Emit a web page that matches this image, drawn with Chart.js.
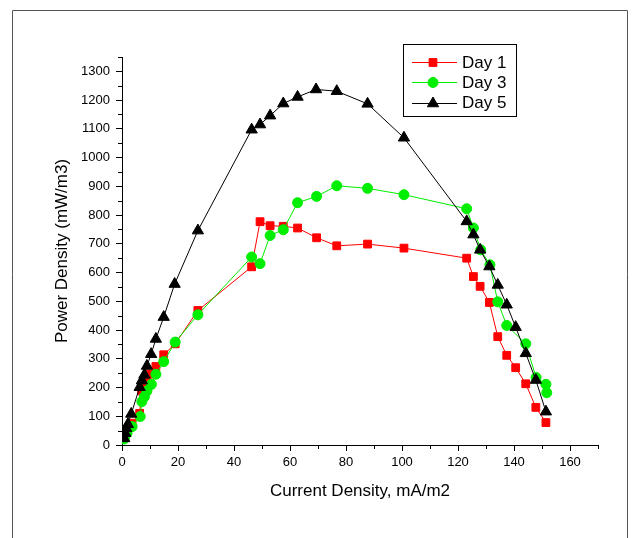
<!DOCTYPE html>
<html>
<head>
<meta charset="utf-8">
<script src="https://cdn.jsdelivr.net/npm/chart.js@4.4.0/dist/chart.umd.min.js"></script>
<style>
    html, body { margin: 0; padding: 0; background: #fff; }
    #wrap { position: relative; width: 635px; height: 538px; }
</style>
</head>
<body>
<div id="wrap"><canvas id="pdChart" width="635" height="538"></canvas></div>
<script>
// values
const day1X = [0.6, 1.8, 3.6, 6.3, 7.0, 8.0, 8.9, 10.2, 12.1, 14.9, 19.0, 27.1, 46.3, 49.3, 52.9, 57.6, 62.7, 69.5, 76.7, 87.7, 100.7, 123.1, 125.5, 127.9, 131.2, 134.2, 137.4, 140.6, 144.2, 147.8, 151.4];
const day1Y = [38, 52, 76, 110, 188, 208, 228, 247, 273, 314, 352, 468, 620, 777, 763, 761, 755, 721, 693, 699, 685, 650, 586, 552, 496, 377, 312, 269, 213, 131, 78];

const day3X = [0.8, 1.8, 3.6, 6.5, 7.1, 8.0, 8.9, 10.5, 12.1, 14.9, 19.0, 27.1, 46.3, 49.3, 52.9, 57.6, 62.7, 69.5, 76.7, 87.7, 100.7, 123.1, 125.5, 128.1, 131.4, 134.2, 137.4, 144.2, 147.9, 151.4, 151.7];
const day3Y = [21, 41, 64, 99, 151, 168, 188, 211, 246, 290, 358, 453, 654, 631, 729, 749, 843, 865, 902, 893, 871, 822, 755, 679, 627, 498, 416, 352, 235, 211, 182];

const day5X = [0.8, 1.2, 1.5, 2.1, 3.3, 6.3, 7.1, 8.0, 8.9, 10.4, 12.1, 14.9, 18.8, 27.1, 46.3, 49.3, 52.9, 57.6, 62.7, 69.3, 76.7, 87.7, 100.7, 123.1, 125.5, 127.9, 131.2, 134.2, 137.4, 140.6, 144.2, 147.8, 151.4];
const day5Y = [23, 41, 58, 72, 108, 201, 224, 244, 275, 316, 369, 445, 560, 746, 1097, 1115, 1146, 1188, 1211, 1237, 1231, 1187, 1069, 778, 732, 679, 621, 557, 488, 410, 319, 226, 116];

const seriesNames = ["Day 1", "Day 3", "Day 5"];
const xTickStep = 20;
const yTickStep = 100;

function toPoints(xs, ys) {
    return xs.map((x, i) => ({ x: x, y: ys[i] }));
}

const FONT = "'Liberation Sans', Arial, sans-serif";

// outer frame round the graph (open at the bottom like the reference)
const framePlugin = {
    id: 'frame',
    beforeDraw(chart) {
        const ctx = chart.ctx;
        ctx.save();
        ctx.fillStyle = '#fff';
        ctx.fillRect(0, 0, chart.width, chart.height);
        ctx.strokeStyle = '#555';
        ctx.lineWidth = 1;
        ctx.beginPath();
        ctx.moveTo(12.5, chart.height);
        ctx.lineTo(12.5, 10.5);
        ctx.lineTo(627.5, 10.5);
        ctx.lineTo(627.5, chart.height);
        ctx.stroke();
        ctx.restore();
    }
};

// shorter minor ticks between the labelled ones
const minorTicks = {
    id: 'minorTicks',
    afterDraw(chart) {
        const { ctx, scales: { x, y } } = chart;
        ctx.save();
        ctx.strokeStyle = '#000';
        ctx.lineWidth = 1;
        ctx.beginPath();
        for (let v = 10; v <= x.max; v += 20) {
            const px = Math.round(x.getPixelForValue(v)) + 0.5;
            ctx.moveTo(px, y.bottom);
            ctx.lineTo(px, y.bottom + 4);
        }
        for (let v = 50; v <= y.max; v += 100) {
            const py = Math.round(y.getPixelForValue(v)) + 0.5;
            ctx.moveTo(x.left, py);
            ctx.lineTo(x.left - 4, py);
        }
        ctx.stroke();
        ctx.restore();
    }
};

// boxed legend inside the plot, like the Origin graph
const boxLegend = {
    id: 'boxLegend',
    afterDraw(chart) {
        const ctx = chart.ctx;
        const left = 403.5, top = 44.5, w = 113, h = 72;
        ctx.save();
        ctx.fillStyle = '#fff';
        ctx.fillRect(left, top, w, h);
        ctx.strokeStyle = '#000';
        ctx.lineWidth = 1;
        ctx.strokeRect(left, top, w, h);
        ctx.font = '17px ' + FONT;
        ctx.textBaseline = 'middle';
        ctx.textAlign = 'left';
        chart.data.datasets.forEach((ds, i) => {
            const cy = 62 + i * 20.3;
            ctx.strokeStyle = ds.borderColor;
            ctx.beginPath();
            ctx.moveTo(412, Math.round(cy) + 0.5);
            ctx.lineTo(457, Math.round(cy) + 0.5);
            ctx.stroke();
            ctx.fillStyle = ds.pointBackgroundColor;
            ctx.strokeStyle = ds.pointBorderColor;
            Chart.helpers.drawPoint(ctx, {
                pointStyle: ds.pointStyle,
                radius: ds.pointRadius,
                rotation: 0,
                borderWidth: 1
            }, 433, Math.round(cy) + 0.5);
            ctx.fillStyle = '#000';
            ctx.fillText(ds.label, 462, cy + 1);
        });
        ctx.restore();
    }
};

function makeSet(label, xs, ys, color, style, radius, order) {
    return {
        label: label,
        data: toPoints(xs, ys),
        borderColor: color,
        backgroundColor: color,
        pointBackgroundColor: color,
        pointBorderColor: color,
        borderWidth: 1,
        pointStyle: style,
        pointRadius: radius,
        pointHoverRadius: radius,
        pointBorderWidth: 1,
        tension: 0,
        order: order
    };
}

const ctx = document.getElementById('pdChart').getContext('2d');
new Chart(ctx, {
    type: 'line',
    data: {
        datasets: [
            makeSet(seriesNames[0], day1X, day1Y, '#ff0000', 'rect', 5.5, 2),
            makeSet(seriesNames[1], day3X, day3Y, '#00ee00', 'circle', 5, 1),
            makeSet(seriesNames[2], day5X, day5Y, '#000000', 'triangle', 6.5, 0)
        ]
    },
    options: {
        responsive: false,
        devicePixelRatio: 1,
        animation: false,
        layout: { padding: { left: 40, right: 37, top: 57, bottom: 30 } },
        plugins: {
            legend: { display: false },
            tooltip: { enabled: false }
        },
        scales: {
            x: {
                type: 'linear',
                min: 0,
                max: 170,
                afterFit: (s) => { s.height = 63; },
                grid: { drawOnChartArea: false, drawTicks: true, tickLength: 6, tickColor: '#000' },
                border: { display: true, color: '#000', width: 1 },
                ticks: {
                    stepSize: xTickStep,
                    includeBounds: false,
                    padding: 4,
                    color: '#000',
                    font: { family: FONT, size: 13 },
                    maxRotation: 0,
                    callback: (v) => String(v)
                },
                title: {
                    display: true,
                    text: 'Current Density, mA/m2',
                    color: '#000',
                    font: { family: FONT, size: 17 },
                    padding: { top: 0, bottom: 6 }
                }
            },
            y: {
                type: 'linear',
                min: 0,
                max: 1350,
                afterFit: (s) => { s.width = 82; },
                grid: { drawOnChartArea: false, drawTicks: true, tickLength: 6, tickColor: '#000' },
                border: { display: true, color: '#000', width: 1 },
                ticks: {
                    stepSize: yTickStep,
                    includeBounds: false,
                    padding: 6,
                    color: '#000',
                    font: { family: FONT, size: 13 },
                    callback: (v) => String(v)
                },
                title: {
                    display: true,
                    text: 'Power Density (mW/m3)',
                    color: '#000',
                    font: { family: FONT, size: 17 },
                    padding: { top: 12, bottom: 0 }
                }
            }
        }
    },
    plugins: [framePlugin, minorTicks, boxLegend]
});
</script>
</body>
</html>
